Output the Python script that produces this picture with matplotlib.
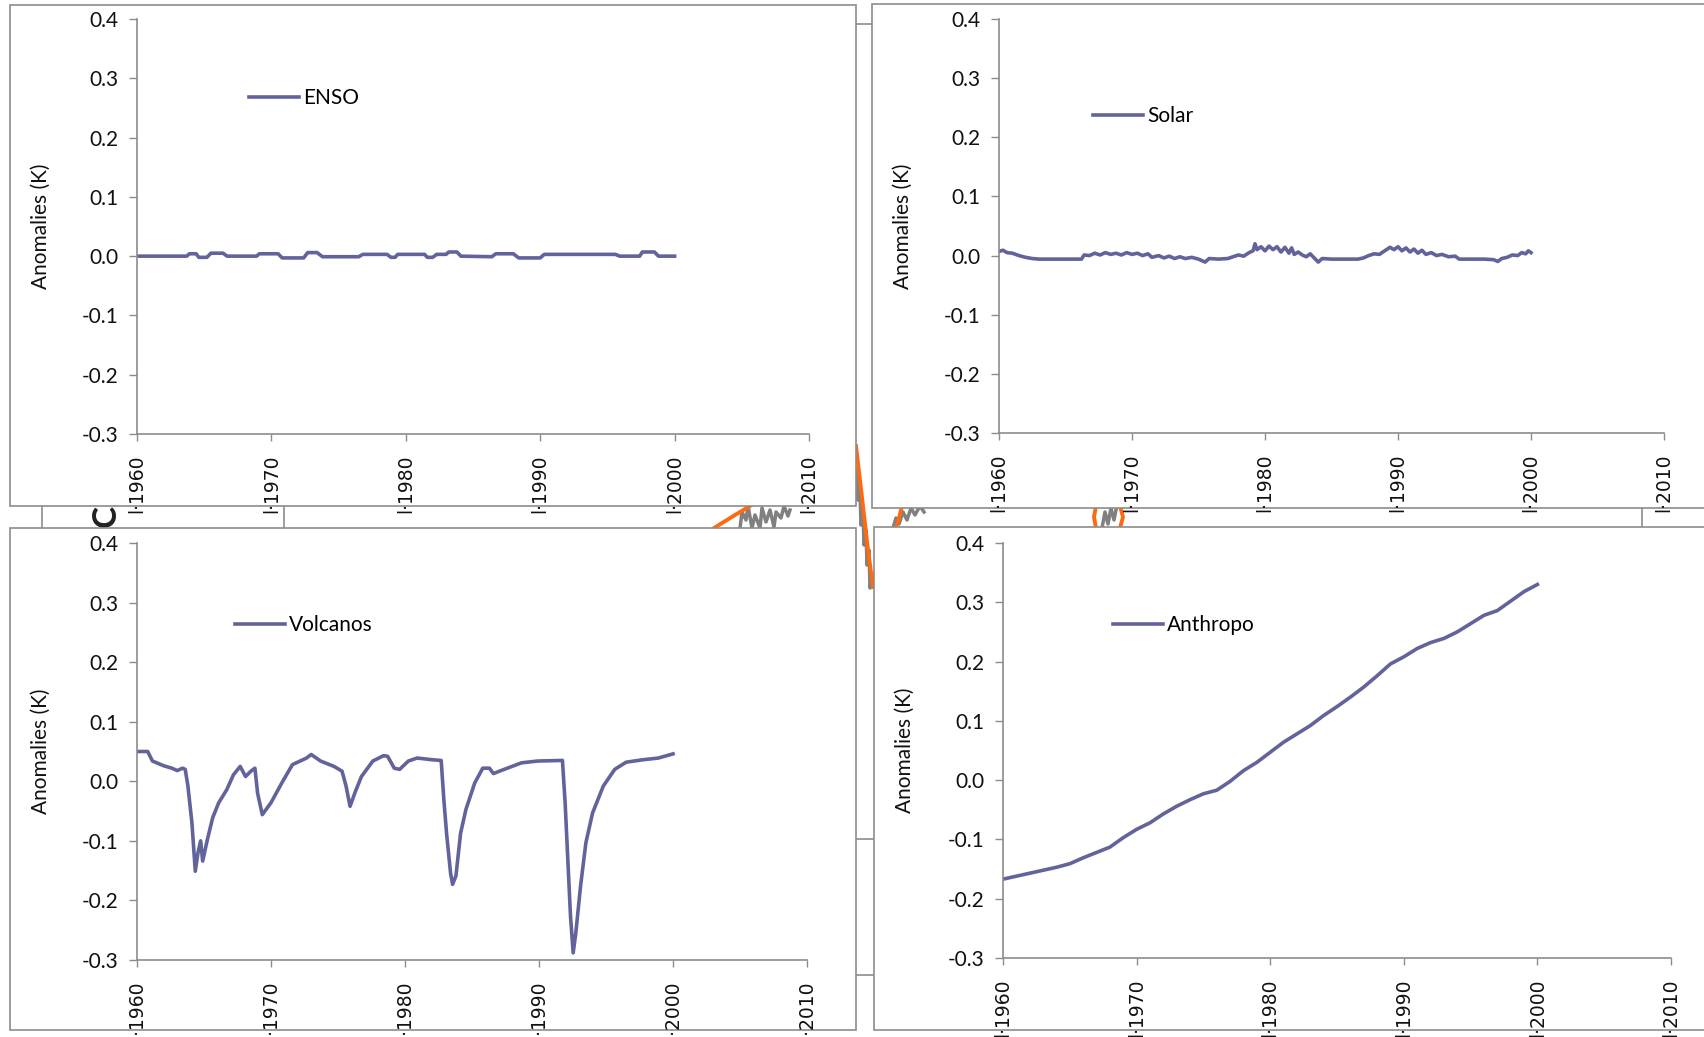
import matplotlib
matplotlib.use("Agg")
import matplotlib.pyplot as plt
from matplotlib.patches import Rectangle

W, H = 1704, 1037
plt.rcParams['axes.unicode_minus'] = False
plt.rcParams['font.family'] = ['Lato', 'DejaVu Sans']

LINE = '#62639b'
GREY = '#8c8c8c'

x_ticks = [1960, 1970, 1980, 1990, 2000, 2010]
y_ticks = [-0.3, -0.2, -0.1, 0.0, 0.1, 0.2, 0.3, 0.4]

# ENSO (casi plano)
enso_years = [1960, 1963.7, 1963.9, 1964.4, 1964.6, 1965.2, 1965.5, 1966.4, 1966.7, 1968.9,
              1969.1, 1970.5, 1970.8, 1972.4, 1972.7, 1973.4, 1973.8, 1976.5, 1976.8, 1978.6,
              1978.9, 1979.2, 1979.4, 1981.4, 1981.6, 1982.0, 1982.3, 1983.0, 1983.2, 1983.8,
              1984.1, 1986.4, 1986.7, 1988.0, 1988.4, 1990.0, 1990.3, 1995.6, 1995.9, 1997.4,
              1997.6, 1998.5, 1998.8, 2000.0]
enso_vals = [0.0, 0.0, 0.004, 0.004, -0.002, -0.002, 0.005, 0.005, 0.0, 0.0,
             0.004, 0.004, -0.003, -0.003, 0.006, 0.006, -0.001, -0.001, 0.003, 0.003,
             -0.002, -0.002, 0.003, 0.003, -0.002, -0.002, 0.003, 0.003, 0.007, 0.007,
             0.0, -0.001, 0.004, 0.004, -0.003, -0.003, 0.003, 0.003, 0.0, 0.0,
             0.007, 0.007, 0.0, 0.0]

# Solar
solar_years = [1960.0, 1960.3, 1960.6, 1961.0, 1961.5, 1962.0, 1962.5, 1963.0, 1964.0, 1965.0,
               1966.2, 1966.4, 1966.8, 1967.2, 1967.6, 1968.0, 1968.4, 1968.8, 1969.2, 1969.6,
               1970.0, 1970.4, 1970.8, 1971.2, 1971.5, 1972.0, 1972.4, 1972.8, 1973.2, 1973.6,
               1974.0, 1974.5, 1975.0, 1975.5, 1975.8, 1976.5, 1977.2, 1977.6, 1978.0, 1978.4,
               1978.8, 1979.1, 1979.25, 1979.4, 1979.7, 1980.0, 1980.3, 1980.6, 1980.9, 1981.2,
               1981.5, 1981.8, 1982.0, 1982.2, 1982.5, 1982.8, 1983.1, 1983.4, 1983.7, 1984.0,
               1984.3, 1985.0, 1986.0, 1987.0, 1987.4, 1987.8, 1988.2, 1988.6, 1989.0, 1989.4,
               1989.7, 1990.0, 1990.3, 1990.6, 1990.9, 1991.2, 1991.5, 1991.8, 1992.1, 1992.5,
               1992.9, 1993.3, 1993.8, 1994.3, 1994.6, 1995.5, 1996.5, 1997.2, 1997.5, 1997.8,
               1998.2, 1998.6, 1999.0, 1999.3, 1999.6, 1999.8, 2000.0]
solar_vals = [0.007, 0.009, 0.005, 0.004, 0.000, -0.003, -0.005, -0.006, -0.006, -0.006,
              -0.006, 0.001, 0.000, 0.004, 0.001, 0.005, 0.002, 0.004, 0.001, 0.005,
              0.002, 0.004, 0.000, 0.003, -0.003, 0.000, -0.004, -0.001, -0.005, -0.002,
              -0.005, -0.003, -0.006, -0.011, -0.005, -0.006, -0.005, -0.002, 0.001, -0.001,
              0.005, 0.008, 0.020, 0.010, 0.015, 0.008, 0.016, 0.010, 0.015, 0.006,
              0.014, 0.004, 0.013, 0.002, 0.006, 0.001, -0.002, 0.003, -0.004, -0.011,
              -0.005, -0.006, -0.006, -0.006, -0.004, 0.000, 0.003, 0.002, 0.008, 0.014,
              0.010, 0.015, 0.008, 0.013, 0.006, 0.011, 0.004, 0.009, 0.002, 0.005,
              0.000, 0.002, -0.002, -0.001, -0.006, -0.006, -0.006, -0.007, -0.010, -0.005,
              -0.003, 0.001, 0.000, 0.005, 0.003, 0.008, 0.005]

# Volcanos
volc_years = [1960.0, 1960.8, 1961.15, 1962.0, 1962.6, 1963.0, 1963.4, 1963.6, 1963.8, 1964.1,
              1964.35, 1964.55, 1964.75, 1964.9, 1965.25, 1965.65, 1966.1, 1966.7, 1967.2, 1967.7,
              1968.1, 1968.5, 1968.8, 1969.0, 1969.35, 1970.0, 1970.8, 1971.6, 1972.65, 1973.0,
              1973.7, 1974.7, 1975.3, 1975.6, 1975.9, 1976.3, 1976.75, 1977.6, 1978.4, 1978.7,
              1979.2, 1979.6, 1980.25, 1980.9, 1982.1, 1982.7, 1982.9, 1983.1, 1983.4, 1983.55,
              1983.8, 1984.15, 1984.55, 1985.2, 1985.8, 1986.3, 1986.6, 1987.4, 1988.7, 1989.9,
              1991.75, 1991.95, 1992.15, 1992.35, 1992.55, 1992.75, 1993.1, 1993.5, 1994.0, 1994.8,
              1995.65, 1996.5, 1997.7, 1998.9, 2000.0]
volc_vals = [0.050, 0.050, 0.034, 0.026, 0.022, 0.018, 0.022, 0.020, -0.008, -0.070,
             -0.151, -0.120, -0.100, -0.134, -0.098, -0.061, -0.036, -0.014, 0.011, 0.025,
             0.008, 0.017, 0.022, -0.020, -0.056, -0.036, -0.003, 0.028, 0.039, 0.045,
             0.034, 0.025, 0.017, -0.008, -0.042, -0.017, 0.008, 0.034, 0.043, 0.042,
             0.022, 0.020, 0.034, 0.039, 0.036, 0.035, -0.031, -0.087, -0.154, -0.173,
             -0.159, -0.087, -0.047, -0.003, 0.022, 0.022, 0.013, 0.020, 0.031, 0.034,
             0.035, -0.036, -0.131, -0.226, -0.288, -0.254, -0.176, -0.103, -0.053, -0.008,
             0.020, 0.032, 0.036, 0.039, 0.046]

# Anthropo
anth_years = list(range(1960, 2001))
anth_vals = [-0.167, -0.162, -0.157, -0.152, -0.147, -0.141, -0.131, -0.122, -0.113, -0.097,
             -0.083, -0.072, -0.057, -0.044, -0.033, -0.023, -0.017, -0.002, 0.016, 0.030,
             0.047, 0.064, 0.078, 0.092, 0.109, 0.124, 0.140, 0.157, 0.176, 0.196,
             0.208, 0.222, 0.232, 0.239, 0.250, 0.264, 0.278, 0.286, 0.302, 0.318,
             0.330]

# restos del grafico de fondo (visibles entre paneles)
bg_orange_x = [856, 860, 864, 868, 873]
bg_orange_y = [446, 480, 515, 550, 587]
bg_grey_x = [857, 858, 860, 861, 863, 864, 866, 867, 869, 870, 872]
bg_grey_y = [470, 500, 490, 525, 510, 545, 530, 565, 550, 588, 575]
strip_grey_x = [740, 742, 746, 748, 752, 755, 760, 762, 766, 770, 774, 776, 781, 784, 788, 790]
strip_grey_y = [528, 512, 520, 506, 528, 515, 528, 508, 522, 510, 527, 512, 518, 506, 516, 510]

fig = plt.figure(figsize=(W / 100, H / 100), dpi=100)

bg = fig.add_axes([0, 0, 1, 1], zorder=0)
bg.set_xlim(0, W)
bg.set_ylim(H, 0)
bg.axis('off')

# lineas del grafico de fondo
for xv in [42, 284, 1642]:
    bg.plot([xv, xv], [506, 528], color=GREY, lw=1.2, zorder=1)
for yv in [24, 839, 975]:
    bg.plot([856, 874], [yv, yv], color=GREY, lw=1.2, zorder=1)
bg.plot(bg_grey_x, bg_grey_y, color='#808080', lw=2.5, zorder=1)
bg.plot(bg_orange_x, bg_orange_y, color='#ff6a10', lw=2.8, zorder=1)
bg.plot(strip_grey_x, strip_grey_y, color='#808080', lw=2.5, zorder=1)
bg.plot([714, 735, 750], [528, 515, 506], color='#ff6a10', lw=2.8, zorder=1.2)
bg.plot([893, 896, 899, 903, 907, 911, 915, 920, 924],
        [528, 518, 524, 512, 520, 508, 515, 506, 512], color='#808080', lw=2.5, zorder=1)
bg.plot([896, 899, 901], [528, 518, 510], color='#ff6a10', lw=2.8, zorder=1.2)
bg.plot([1096, 1094, 1096], [506, 517, 528], color='#ff6a10', lw=2.8, zorder=1.2)
bg.plot([1120, 1123, 1120], [506, 517, 528], color='#ff6a10', lw=2.8, zorder=1.2)
bg.plot([1102, 1105, 1108, 1111, 1114, 1116], [528, 512, 524, 508, 520, 510], color='#808080', lw=2.5, zorder=1)
bg.text(106, 516, 'C', fontsize=24, fontweight='bold', rotation=90,
        ha='center', va='center', color='#222222', zorder=1.5)

# marcos de cada grafico
frames = [(9.5, 5, 846.5, 501), (872, 4, 900, 504), (9.5, 528, 846.5, 502), (874, 527, 900, 503)]
for (fx, fy, fw, fh) in frames:
    bg.add_patch(Rectangle((fx, fy), fw, fh, facecolor='white', edgecolor=GREY, lw=1.2, zorder=3))


def panel(box, years, vals, name, leg_xy, ylab_x):
    l, r, t, b = box
    ax = fig.add_axes([l / W, 1 - b / H, (r - l) / W, (b - t) / H], zorder=2)
    ax.patch.set_alpha(0)
    ax.plot(years, vals, color=LINE, lw=2.6, label=name)
    ax.set_xlim(1960, 2010)
    ax.set_ylim(-0.3, 0.4)
    ax.set_xticks(x_ticks)
    ax.set_xticklabels(['l\u00b7%d' % y for y in x_ticks], rotation=90,
                       family='DejaVu Sans', fontsize=13.5)
    ax.set_yticks(y_ticks)
    ax.set_yticklabels(['%.1f' % v for v in y_ticks], fontsize=15)
    for s in ['top', 'right']:
        ax.spines[s].set_visible(False)
    for s in ['left', 'bottom']:
        ax.spines[s].set_color(GREY)
        ax.spines[s].set_linewidth(1.2)
    ax.tick_params(axis='y', direction='out', length=6, width=1, color=GREY, pad=7, labelcolor='#111111')
    ax.tick_params(axis='x', direction='out', length=5, width=1, color=GREY, pad=10, labelcolor='#111111')
    ax.set_ylabel('Anomalies (K)', fontsize=15, color='#111111')
    ax.yaxis.set_label_coords(ylab_x, 0.5)
    ax.legend(loc='center left', bbox_to_anchor=leg_xy, frameon=False, fontsize=15,
              handlelength=2.4, handletextpad=0.2, borderpad=0, borderaxespad=0)
    return ax


panel((137, 809, 19, 434), enso_years, enso_vals, 'ENSO', (0.167, 0.81), -0.128)
panel((999, 1664, 19, 433), solar_years, solar_vals, 'Solar', (0.141, 0.766), -0.129)
panel((137, 807, 543, 960), volc_years, volc_vals, 'Volcanos', (0.146, 0.803), -0.128)
panel((1003, 1671, 543, 958), anth_years, anth_vals, 'Anthropo', (0.165, 0.802), -0.132)

fig.savefig('out.png', dpi=100)
